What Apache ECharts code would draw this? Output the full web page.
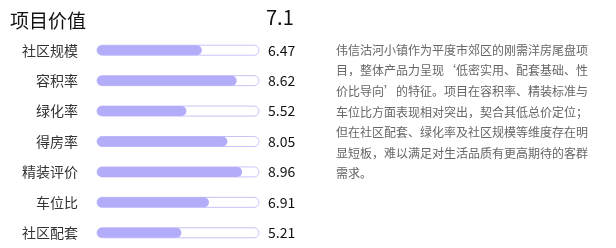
<!DOCTYPE html>
<html>
<head>
<meta charset="utf-8">
<script src="https://cdn.jsdelivr.net/npm/echarts@6/dist/echarts.min.js"></script>
<style>
html, body { margin: 0; padding: 0; background: #fff; }
#chart { width: 616px; height: 248px; }
</style>
</head>
<body>
<div id="chart"></div>
<script>
// 项目价值各维度得分
const categories = ['社区规模', '容积率', '绿化率', '得房率', '精装评价', '车位比', '社区配套'];
const scores = [6.47, 8.62, 5.52, 8.05, 8.96, 6.91, 5.21];
const totalScore = 7.1;
const scoreMax = 10;
const summaryLines = [
    '伟信沽河小镇作为平度市郊区的刚需洋房尾盘项',
    '目，整体产品力呈现‘低密实用、配套基础、性',
    '价比导向’的特征。项目在容积率、精装标准与',
    '车位比方面表现相对突出，契合其低总价定位；',
    '但在社区配套、绿化率及社区规模等维度存在明',
    '显短板，难以满足对生活品质有更高期待的客群',
    '需求。'
];

const font = "'Noto Sans CJK SC', 'Noto Sans', sans-serif";
let chart = echarts.init(document.getElementById('chart'));
chart.setOption({
    animation: false,
    textStyle: { fontFamily: font },
    title: {
        text: '项目价值',
        left: 5,
        top: 6,
        textStyle: { fontSize: 19, fontWeight: 'normal', color: '#111', fontFamily: font }
    },
    graphic: [
        {
            type: 'text',
            left: 266,
            top: 7,
            style: { text: String(totalScore), font: '20px ' + font, fill: '#111' }
        },
        {
            type: 'text',
            left: 336,
            top: 40,
            style: {
                text: summaryLines.join('\n'),
                font: '12px ' + font,
                lineHeight: 20.6,
                fill: '#666'
            }
        }
    ],
    grid: { left: 97, width: 162, top: 35, height: 213.5 },
    xAxis: { type: 'value', min: 0, max: scoreMax, show: false },
    yAxis: [
        {
            type: 'category',
            inverse: true,
            data: categories,
            axisLine: { show: false },
            axisTick: { show: false },
            axisLabel: { margin: 19, fontSize: 14, color: '#333', fontFamily: font }
        },
        {
            type: 'category',
            inverse: true,
            position: 'right',
            data: scores.map(v => v.toFixed(2)),
            axisLine: { show: false },
            axisTick: { show: false },
            axisLabel: { margin: 9, fontSize: 14, color: '#111', fontFamily: font }
        }
    ],
    series: [
        {
            type: 'bar',
            data: scores,
            barWidth: 10,
            showBackground: true,
            backgroundStyle: {
                color: '#fff',
                borderColor: '#c8c3fa',
                borderWidth: 1,
                borderRadius: 5
            },
            itemStyle: { color: '#b3adf9', borderRadius: 5 }
        }
    ]
});
</script>
</body>
</html>
